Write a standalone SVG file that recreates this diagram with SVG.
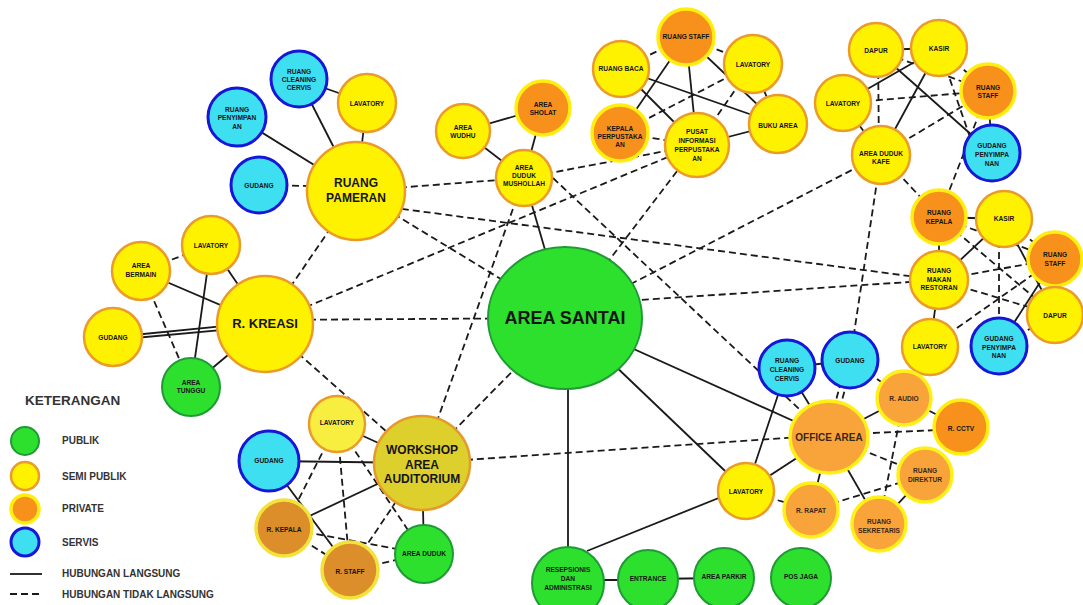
<svg xmlns="http://www.w3.org/2000/svg" width="1083" height="605" viewBox="0 0 1083 605">
<style>
.bg{fill:#ffffff}
.pub{fill:#2ee02e;stroke:#1f9a35;stroke-width:2}
.semi{fill:#fff200;stroke:#eb9b2a;stroke-width:2.5}
.priv{fill:#f7911c;stroke:#ffee10;stroke-width:3.5}
.off{fill:#f9a43a;stroke:#fff018;stroke-width:3.5}
.serv{fill:#3edff0;stroke:#1616d8;stroke-width:3}
.ws{fill:#ddd02c;stroke:#e59a2c;stroke-width:2.5}
.wsp{fill:#dc8e2a;stroke:#f2e23a;stroke-width:3.5}
.sl{stroke:#1a1a1a;stroke-width:1.8;fill:none}
.dl{stroke:#1a1a1a;stroke-width:1.8;fill:none;stroke-dasharray:7 4}
text{font-family:"Liberation Sans",Arial,sans-serif;font-weight:bold;text-anchor:middle;fill:#151515}
.s{font-size:6.6px}
.o{fill:#3a2818}
.lg{font-size:10px;text-anchor:start;fill:#333}
</style>
<rect class="bg" x="0" y="0" width="1083" height="605"/>
<g id="connectors">
<!-- solid -->
<line class="sl" x1="299" y1="79" x2="367" y2="103"/>
<line class="sl" x1="299" y1="79" x2="356" y2="191"/>
<line class="sl" x1="237" y1="117" x2="356" y2="191"/>
<line class="sl" x1="367" y1="103" x2="356" y2="191"/>
<line class="sl" x1="211" y1="245" x2="265" y2="324"/>
<line class="sl" x1="141" y1="271" x2="265" y2="324"/>
<line class="sl" x1="211" y1="245" x2="191" y2="386"/>
<line class="sl" x1="113" y1="337" x2="265" y2="322"/>
<line class="sl" x1="113" y1="340" x2="265" y2="326"/>
<line class="sl" x1="191" y1="386" x2="265" y2="324"/>
<line class="sl" x1="463" y1="131" x2="524" y2="178"/>
<line class="sl" x1="463" y1="131" x2="543" y2="108"/>
<line class="sl" x1="543" y1="108" x2="524" y2="178"/>
<line class="sl" x1="524" y1="178" x2="565" y2="318"/>
<line class="sl" x1="686" y1="37" x2="620" y2="133"/>
<line class="sl" x1="686" y1="37" x2="697" y2="145"/>
<line class="sl" x1="686" y1="37" x2="778" y2="124"/>
<line class="sl" x1="621" y1="69" x2="697" y2="145"/>
<line class="sl" x1="621" y1="69" x2="778" y2="124"/>
<line class="sl" x1="753" y1="64" x2="778" y2="124"/>
<line class="sl" x1="697" y1="145" x2="778" y2="124"/>
<line class="sl" x1="876" y1="50" x2="939" y2="48"/>
<line class="sl" x1="876" y1="50" x2="992" y2="153"/>
<line class="sl" x1="939" y1="48" x2="843" y2="103"/>
<line class="sl" x1="939" y1="48" x2="881" y2="155"/>
<line class="sl" x1="843" y1="103" x2="881" y2="155"/>
<line class="sl" x1="988" y1="91" x2="992" y2="153"/>
<line class="sl" x1="939" y1="217" x2="1004" y2="219"/>
<line class="sl" x1="939" y1="217" x2="939" y2="280"/>
<line class="sl" x1="1004" y1="219" x2="939" y2="280"/>
<line class="sl" x1="1004" y1="219" x2="1055" y2="315"/>
<line class="sl" x1="939" y1="280" x2="930" y2="347"/>
<line class="sl" x1="999" y1="346" x2="1055" y2="259"/>
<line class="sl" x1="1055" y1="259" x2="1055" y2="315"/>
<line class="sl" x1="787" y1="368" x2="850" y2="360"/>
<line class="sl" x1="787" y1="368" x2="829" y2="437"/>
<line class="sl" x1="787" y1="368" x2="746" y2="491"/>
<line class="sl" x1="829" y1="437" x2="904" y2="398"/>
<line class="sl" x1="829" y1="437" x2="746" y2="491"/>
<line class="sl" x1="829" y1="437" x2="811" y2="510"/>
<line class="sl" x1="829" y1="437" x2="879" y2="524"/>
<line class="sl" x1="904" y1="398" x2="961" y2="427"/>
<line class="sl" x1="925" y1="475" x2="879" y2="524"/>
<line class="sl" x1="565" y1="318" x2="829" y2="437"/>
<line class="sl" x1="565" y1="318" x2="746" y2="491"/>
<line class="sl" x1="568" y1="318" x2="568" y2="582"/>
<line class="sl" x1="746" y1="487" x2="587" y2="551"/>
<line class="sl" x1="568" y1="580" x2="648" y2="580"/>
<line class="sl" x1="648" y1="579" x2="724" y2="578"/>
<line class="sl" x1="337" y1="424" x2="422" y2="463"/>
<line class="sl" x1="269" y1="461" x2="422" y2="463"/>
<line class="sl" x1="269" y1="461" x2="350" y2="570"/>
<line class="sl" x1="284" y1="528" x2="422" y2="463"/>
<line class="sl" x1="422" y1="463" x2="424" y2="554"/>
<!-- dashed -->
<line class="dl" x1="259" y1="185" x2="356" y2="187"/>
<line class="dl" x1="356" y1="191" x2="524" y2="178"/>
<line class="dl" x1="380" y1="206" x2="939" y2="280"/>
<line class="dl" x1="356" y1="191" x2="565" y2="318"/>
<line class="dl" x1="356" y1="191" x2="265" y2="324"/>
<line class="dl" x1="141" y1="271" x2="211" y2="245"/>
<line class="dl" x1="141" y1="271" x2="191" y2="386"/>
<line class="dl" x1="265" y1="320" x2="565" y2="318"/>
<line class="dl" x1="265" y1="324" x2="697" y2="145"/>
<line class="dl" x1="265" y1="324" x2="422" y2="463"/>
<line class="dl" x1="524" y1="178" x2="697" y2="145"/>
<line class="dl" x1="524" y1="178" x2="422" y2="463"/>
<line class="dl" x1="553" y1="178" x2="829" y2="437"/>
<line class="dl" x1="686" y1="37" x2="621" y2="69"/>
<line class="dl" x1="686" y1="37" x2="753" y2="64"/>
<line class="dl" x1="753" y1="64" x2="620" y2="133"/>
<line class="dl" x1="753" y1="64" x2="697" y2="145"/>
<line class="dl" x1="620" y1="133" x2="697" y2="145"/>
<line class="dl" x1="697" y1="145" x2="565" y2="318"/>
<line class="dl" x1="878" y1="50" x2="879" y2="155"/>
<line class="dl" x1="876" y1="50" x2="988" y2="91"/>
<line class="dl" x1="939" y1="48" x2="988" y2="91"/>
<line class="dl" x1="939" y1="48" x2="971" y2="140"/>
<line class="dl" x1="843" y1="103" x2="988" y2="91"/>
<line class="dl" x1="881" y1="155" x2="988" y2="91"/>
<line class="dl" x1="881" y1="155" x2="939" y2="217"/>
<line class="dl" x1="881" y1="155" x2="850" y2="360"/>
<line class="dl" x1="881" y1="155" x2="565" y2="318"/>
<line class="dl" x1="988" y1="91" x2="939" y2="217"/>
<line class="dl" x1="1004" y1="219" x2="1055" y2="259"/>
<line class="dl" x1="999" y1="219" x2="999" y2="346"/>
<line class="dl" x1="939" y1="217" x2="1055" y2="259"/>
<line class="dl" x1="939" y1="217" x2="1055" y2="315"/>
<line class="dl" x1="939" y1="280" x2="1055" y2="259"/>
<line class="dl" x1="939" y1="280" x2="1055" y2="315"/>
<line class="dl" x1="930" y1="347" x2="1055" y2="259"/>
<line class="dl" x1="999" y1="346" x2="1055" y2="315"/>
<line class="dl" x1="565" y1="305" x2="939" y2="280"/>
<line class="dl" x1="565" y1="318" x2="422" y2="463"/>
<line class="dl" x1="847" y1="360" x2="826" y2="437"/>
<line class="dl" x1="853" y1="360" x2="832" y2="437"/>
<line class="dl" x1="850" y1="360" x2="904" y2="398"/>
<line class="dl" x1="829" y1="435" x2="961" y2="429"/>
<line class="dl" x1="829" y1="437" x2="925" y2="475"/>
<line class="dl" x1="746" y1="491" x2="811" y2="510"/>
<line class="dl" x1="904" y1="398" x2="879" y2="524"/>
<line class="dl" x1="811" y1="510" x2="925" y2="475"/>
<line class="dl" x1="422" y1="463" x2="829" y2="435"/>
<line class="dl" x1="337" y1="424" x2="284" y2="528"/>
<line class="dl" x1="337" y1="424" x2="350" y2="570"/>
<line class="dl" x1="337" y1="424" x2="424" y2="554"/>
<line class="dl" x1="284" y1="528" x2="424" y2="554"/>
<line class="dl" x1="284" y1="528" x2="350" y2="570"/>
<line class="dl" x1="350" y1="570" x2="424" y2="554"/>
<line class="dl" x1="350" y1="570" x2="422" y2="463"/>
</g>
<g id="n-cleaning1"><circle class="serv" cx="299" cy="79" r="28"/><text class="s" x="299" y="74">RUANG<tspan x="299" dy="8">CLEANING</tspan><tspan x="299" dy="8">CERVIS</tspan></text></g>
<g id="n-penyimpanan1"><circle class="serv" cx="237" cy="117" r="29"/><text class="s" x="237" y="112">RUANG<tspan x="237" dy="8">PENYIMPAN</tspan><tspan x="237" dy="9">AN</tspan></text></g>
<g id="n-lavatory1"><circle class="semi" cx="367" cy="103" r="29"/><text class="s" x="367" y="106">LAVATORY</text></g>
<g id="n-gudang1"><circle class="serv" cx="259" cy="185" r="28"/><text class="s" x="259" y="188">GUDANG</text></g>
<g id="n-pameran"><circle class="semi" cx="356" cy="191" r="49"/><text x="356" y="187" font-size="12">RUANG<tspan x="356" dy="15">PAMERAN</tspan></text></g>
<g id="n-lavatory2"><circle class="semi" cx="211" cy="245" r="29"/><text class="s" x="211" y="248">LAVATORY</text></g>
<g id="n-bermain"><circle class="semi" cx="141" cy="271" r="29"/><text class="s" x="141" y="268">AREA<tspan x="141" dy="9">BERMAIN</tspan></text></g>
<g id="n-gudang2"><circle class="semi" cx="113" cy="337" r="29"/><text class="s" x="113" y="340">GUDANG</text></g>
<g id="n-tunggu"><circle class="pub" cx="191" cy="387" r="29"/><text class="s" x="191" y="385">AREA<tspan x="191" dy="8">TUNGGU</tspan></text></g>
<g id="n-kreasi"><circle class="semi" cx="265" cy="324" r="48"/><text x="265" y="328" font-size="13">R. KREASI</text></g>
<g id="n-wudhu"><circle class="semi" cx="463" cy="131" r="27"/><text class="s" x="463" y="130">AREA<tspan x="463" dy="8">WUDHU</tspan></text></g>
<g id="n-sholat"><circle class="priv" cx="543" cy="108" r="27"/><text class="s" x="543" y="107">AREA<tspan x="543" dy="8">SHOLAT</tspan></text></g>
<g id="n-mushollah"><circle class="semi" cx="524" cy="178" r="28"/><text class="s" x="524" y="170">AREA<tspan x="524" dy="8">DUDUK</tspan><tspan x="524" dy="8">MUSHOLLAH</tspan></text></g>
<g id="n-staff-lib"><circle class="priv" cx="686" cy="37" r="28"/><text class="s" x="686" y="39">RUANG STAFF</text></g>
<g id="n-baca"><circle class="semi" cx="621" cy="69" r="28"/><text class="s" x="621" y="71">RUANG BACA</text></g>
<g id="n-lavatory3"><circle class="semi" cx="753" cy="64" r="29"/><text class="s" x="753" y="67">LAVATORY</text></g>
<g id="n-kepala-lib"><circle class="priv" cx="620" cy="133" r="28"/><text class="s" x="620" y="131">KEPALA<tspan x="620" dy="8">PERPUSTAKA</tspan><tspan x="620" dy="8">AN</tspan></text></g>
<g id="n-pusat"><circle class="semi" cx="697" cy="145" r="32"/><text class="s" x="697" y="134">PUSAT<tspan x="697" dy="9">INFORMASI</tspan><tspan x="697" dy="9">PERPUSTAKA</tspan><tspan x="697" dy="9">AN</tspan></text></g>
<g id="n-buku"><circle class="semi" cx="778" cy="124" r="29"/><text class="s" x="778" y="128">BUKU AREA</text></g>
<g id="n-dapur1"><circle class="semi" cx="876" cy="50" r="27"/><text class="s" x="876" y="53">DAPUR</text></g>
<g id="n-kasir1"><circle class="semi" cx="939" cy="48" r="28"/><text class="s" x="939" y="51">KASIR</text></g>
<g id="n-lavatory4"><circle class="semi" cx="843" cy="103" r="28"/><text class="s" x="843" y="106">LAVATORY</text></g>
<g id="n-staff-kafe"><circle class="priv" cx="988" cy="91" r="27"/><text class="s" x="988" y="90">RUANG<tspan x="988" dy="8">STAFF</tspan></text></g>
<g id="n-kafe"><circle class="semi" cx="881" cy="155" r="29"/><text class="s" x="881" y="156">AREA DUDUK<tspan x="881" dy="8">KAFE</tspan></text></g>
<g id="n-gudangp1"><circle class="serv" cx="992" cy="153" r="28"/><text class="s" x="992" y="148">GUDANG<tspan x="992" dy="9">PENYIMPA</tspan><tspan x="992" dy="9">NAN</tspan></text></g>
<g id="n-kepala-resto"><circle class="priv" cx="939" cy="217" r="27"/><text class="s" x="939" y="215">RUANG<tspan x="939" dy="9">KEPALA</tspan></text></g>
<g id="n-kasir2"><circle class="semi" cx="1004" cy="219" r="28"/><text class="s" x="1004" y="221">KASIR</text></g>
<g id="n-staff-resto"><circle class="priv" cx="1055" cy="259" r="27"/><text class="s" x="1055" y="257">RUANG<tspan x="1055" dy="9">STAFF</tspan></text></g>
<g id="n-makan"><circle class="semi" cx="939" cy="280" r="29"/><text class="s" x="939" y="273">RUANG<tspan x="939" dy="8.5">MAKAN</tspan><tspan x="939" dy="8.5">RESTORAN</tspan></text></g>
<g id="n-dapur2"><circle class="semi" cx="1055" cy="315" r="28"/><text class="s" x="1055" y="318">DAPUR</text></g>
<g id="n-lavatory5"><circle class="semi" cx="930" cy="347" r="28"/><text class="s" x="930" y="349">LAVATORY</text></g>
<g id="n-gudangp2"><circle class="serv" cx="999" cy="346" r="28"/><text class="s" x="999" y="341">GUDANG<tspan x="999" dy="8.5">PENYIMPA</tspan><tspan x="999" dy="8.5">NAN</tspan></text></g>
<g id="n-gudang3"><circle class="serv" cx="850" cy="360" r="28"/><text class="s" x="850" y="363">GUDANG</text></g>
<g id="n-cleaning2"><circle class="serv" cx="787" cy="368" r="28"/><text class="s" x="787" y="363">RUANG<tspan x="787" dy="9">CLEANING</tspan><tspan x="787" dy="9">CERVIS</tspan></text></g>
<g id="n-office"><ellipse class="off" cx="829" cy="437" rx="39" ry="36"/><text class="o" x="829" y="441" font-size="10">OFFICE AREA</text></g>
<g id="n-audio"><circle class="off" cx="904" cy="398" r="27"/><text class="s o" x="904" y="401">R. AUDIO</text></g>
<g id="n-cctv"><circle class="priv" cx="961" cy="427" r="27"/><text class="s" x="961" y="431">R. CCTV</text></g>
<g id="n-direktur"><circle class="off" cx="925" cy="475" r="27"/><text class="s o" x="925" y="473">RUANG<tspan x="925" dy="9">DIREKTUR</tspan></text></g>
<g id="n-sekretaris"><circle class="off" cx="879" cy="524" r="27"/><text class="s o" x="879" y="524">RUANG<tspan x="879" dy="9">SEKRETARIS</tspan></text></g>
<g id="n-rapat"><circle class="off" cx="811" cy="510" r="27"/><text class="s o" x="811" y="513">R. RAPAT</text></g>
<g id="n-lavatory6"><circle class="semi" cx="746" cy="491" r="28"/><text class="s" x="746" y="494">LAVATORY</text></g>
<g id="n-resepsionis"><circle class="pub" cx="568" cy="583" r="36"/><text class="s" x="568" y="572">RESEPSIONIS<tspan x="568" dy="9">DAN</tspan><tspan x="568" dy="9">ADMINISTRASI</tspan></text></g>
<g id="n-entrance"><circle class="pub" cx="648" cy="580" r="30"/><text class="s" x="648" y="581">ENTRANCE</text></g>
<g id="n-parkir"><circle class="pub" cx="724" cy="578" r="30"/><text class="s" x="724" y="579">AREA PARKIR</text></g>
<g id="n-posjaga"><circle class="pub" cx="801" cy="578" r="30"/><text class="s" x="801" y="579">POS JAGA</text></g>
<g id="n-workshop"><ellipse class="ws" cx="422" cy="463" rx="48" ry="47"/><text x="422" y="454" font-size="12">WORKSHOP<tspan x="422" dy="14.5">AREA</tspan><tspan x="422" dy="14.5">AUDITORIUM</tspan></text></g>
<g id="n-lavatory7"><circle class="semi" cx="337" cy="424" r="28" style="fill:#f8ee40"/><text class="s" x="337" y="425">LAVATORY</text></g>
<g id="n-gudang4"><circle class="serv" cx="269" cy="461" r="30"/><text class="s" x="269" y="463">GUDANG</text></g>
<g id="n-kepala-ws"><circle class="wsp" cx="284" cy="528" r="28"/><text class="s" x="284" y="532">R. KEPALA</text></g>
<g id="n-staff-ws"><circle class="wsp" cx="350" cy="570" r="28"/><text class="s" x="350" y="574">R. STAFF</text></g>
<g id="n-duduk"><circle class="pub" cx="424" cy="554" r="29"/><text class="s" x="424" y="556">AREA DUDUK</text></g>
<g id="n-santai"><ellipse class="pub" cx="565" cy="318" rx="77" ry="71"/><text x="565" y="324" font-size="18">AREA SANTAI</text></g>
<g id="legend">
<text x="25" y="405" font-size="13.5" style="text-anchor:start;fill:#333">KETERANGAN</text>
<circle class="pub" cx="25" cy="441" r="14"/>
<circle class="semi" cx="25" cy="476" r="14"/>
<circle class="priv" cx="25" cy="509" r="14"/>
<circle class="serv" cx="25" cy="542" r="14"/>
<text class="lg" x="62" y="444">PUBLIK</text>
<text class="lg" x="62" y="480">SEMI PUBLIK</text>
<text class="lg" x="62" y="512">PRIVATE</text>
<text class="lg" x="62" y="546">SERVIS</text>
<line class="sl" x1="10" y1="574" x2="42" y2="574"/>
<line class="dl" x1="10" y1="594" x2="42" y2="594"/>
<text class="lg" x="62" y="577">HUBUNGAN LANGSUNG</text>
<text class="lg" x="62" y="598">HUBUNGAN TIDAK LANGSUNG</text>
</g>
</svg>
